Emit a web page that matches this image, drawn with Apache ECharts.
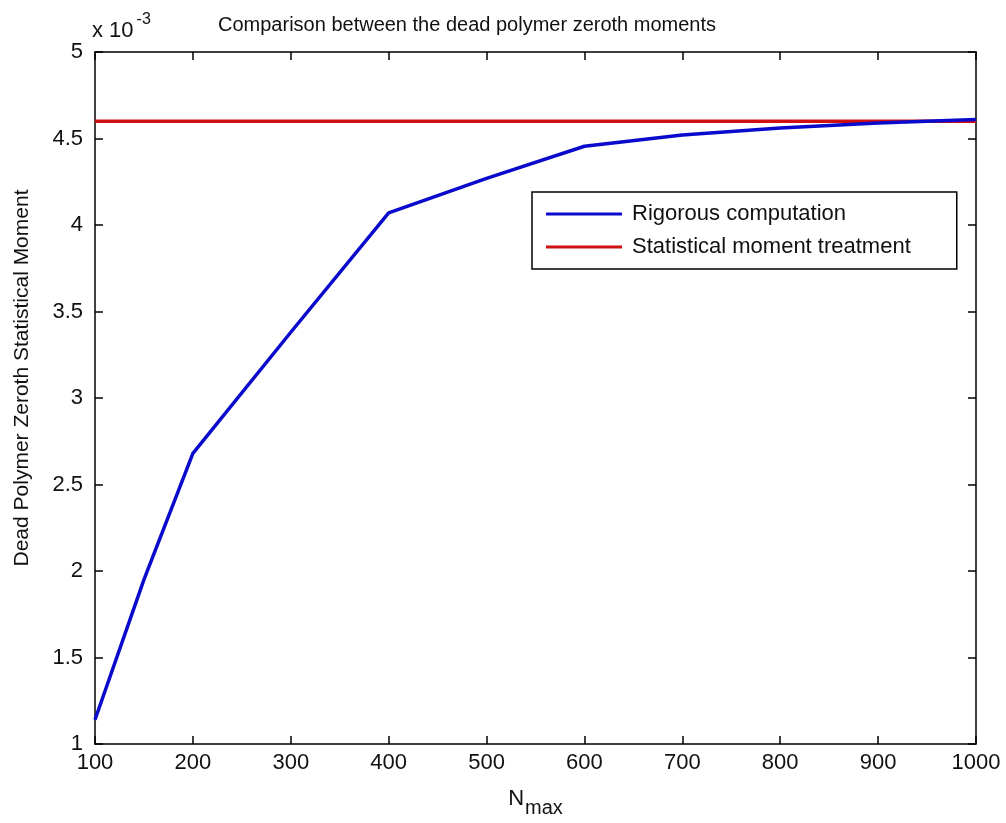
<!DOCTYPE html>
<html>
<head>
<meta charset="utf-8">
<script src="https://cdn.jsdelivr.net/npm/echarts@6/dist/echarts.min.js"></script>
<style>
html,body{margin:0;padding:0;background:#fff;}
#chart{width:1006px;height:823px;}
</style>
</head>
<body>
<div id="chart"></div>
<script>
// N_max values (x axis)
var nmax = [100, 150, 200, 300, 400, 500, 600, 700, 800, 900, 1000];
// Rigorous computation, dead polymer zeroth moment (units of 1e-3)
var rigorous = [1.14, 1.95, 2.68, 3.38, 4.07, 4.27, 4.455, 4.52, 4.56, 4.59, 4.61];
// Statistical moment treatment (units of 1e-3), constant
var statNmax = [100, 1000];
var statistical = [4.60, 4.60];
var xTicks = [100, 200, 300, 400, 500, 600, 700, 800, 900, 1000];
var yTicks = [1, 1.5, 2, 2.5, 3, 3.5, 4, 4.5, 5];

var FONT = "'Liberation Sans', Arial, sans-serif";
var chart = echarts.init(document.getElementById('chart'));

var rigPairs = nmax.map(function (x, i) { return [x, rigorous[i]]; });
var statPairs = statNmax.map(function (x, i) { return [x, statistical[i]]; });

var axisLineStyle = { color: '#000', width: 1.5 };
var tickStyle = { show: true, inside: true, length: 8, lineStyle: { color: '#000', width: 1.5 } };

chart.setOption({
  backgroundColor: '#fff',
  animation: false,
  grid: { left: 95, right: 30, top: 52, bottom: 76 },
  graphic: [
    {
      type: 'text', left: 218, top: 15,
      style: { text: 'Comparison between the dead polymer zeroth moments', font: '20px ' + FONT, fill: '#111' }
    },
    {
      type: 'text', left: 92, top: 12,
      style: {
        text: '{a|x 10}{b|-3}',
        rich: {
          a: { fontSize: 22, fontFamily: FONT, fill: '#111', padding: [8, 0, 0, 0] },
          b: { fontSize: 16, fontFamily: FONT, fill: '#111', verticalAlign: 'top', padding: [0, 0, 12, 3] }
        }
      }
    },
    {
      type: 'text', x: 22, y: 378, rotation: Math.PI / 2,
      style: {
        text: 'Dead Polymer Zeroth Statistical Moment',
        font: '21px ' + FONT, fill: '#111',
        align: 'center', verticalAlign: 'middle'
      }
    }
  ],
  legend: {
    orient: 'vertical',
    left: 532, top: 192,
    padding: [11, 46, 11, 14],
    itemGap: 11,
    itemWidth: 76, itemHeight: 3,
    icon: 'rect',
    backgroundColor: '#fff',
    borderColor: '#000', borderWidth: 1.5,
    textStyle: { fontSize: 22, fontFamily: FONT, color: '#111', padding: [0, 0, 0, 5] },
    data: ['Rigorous computation', 'Statistical moment treatment']
  },
  xAxis: [
    {
      type: 'value', min: 100, max: 1000, interval: 100, position: 'bottom',
      axisLine: { show: true, lineStyle: axisLineStyle },
      axisTick: tickStyle,
      splitLine: { show: false },
      axisLabel: { fontSize: 22, fontFamily: FONT, color: '#111', margin: 8,
        customValues: xTicks, formatter: function (v) { return v; } },
      name: '{n|N}{s|max}',
      nameLocation: 'middle', nameGap: 36,
      nameTextStyle: {
        rich: {
          n: { fontSize: 22, fontFamily: FONT, color: '#111' },
          s: { fontSize: 20, fontFamily: FONT, color: '#111', padding: [18, 0, 0, 1] }
        }
      }
    },
    {
      type: 'value', min: 100, max: 1000, interval: 100, position: 'top',
      axisLine: { show: true, lineStyle: axisLineStyle },
      axisTick: tickStyle, axisLabel: { show: false }, splitLine: { show: false }
    }
  ],
  yAxis: [
    {
      type: 'value', min: 1, max: 5, interval: 0.5, position: 'left',
      axisLine: { show: true, lineStyle: axisLineStyle },
      axisTick: tickStyle,
      splitLine: { show: false },
      axisLabel: { fontSize: 22, fontFamily: FONT, color: '#111', margin: 12,
        formatter: function (v) { return String(v); } }
    },
    {
      type: 'value', min: 1, max: 5, interval: 0.5, position: 'right',
      axisLine: { show: true, lineStyle: axisLineStyle },
      axisTick: tickStyle, axisLabel: { show: false }, splitLine: { show: false }
    }
  ],
  series: [
    {
      name: 'Rigorous computation', type: 'line', data: rigPairs,
      symbol: 'none', z: 3,
      lineStyle: { color: '#0a0acc', width: 3.5 },
      itemStyle: { color: '#0a0acc' }
    },
    {
      name: 'Statistical moment treatment', type: 'line', data: statPairs,
      symbol: 'none', z: 2,
      lineStyle: { color: '#d01010', width: 3.5 },
      itemStyle: { color: '#d01010' }
    }
  ]
});
</script>
</body>
</html>
